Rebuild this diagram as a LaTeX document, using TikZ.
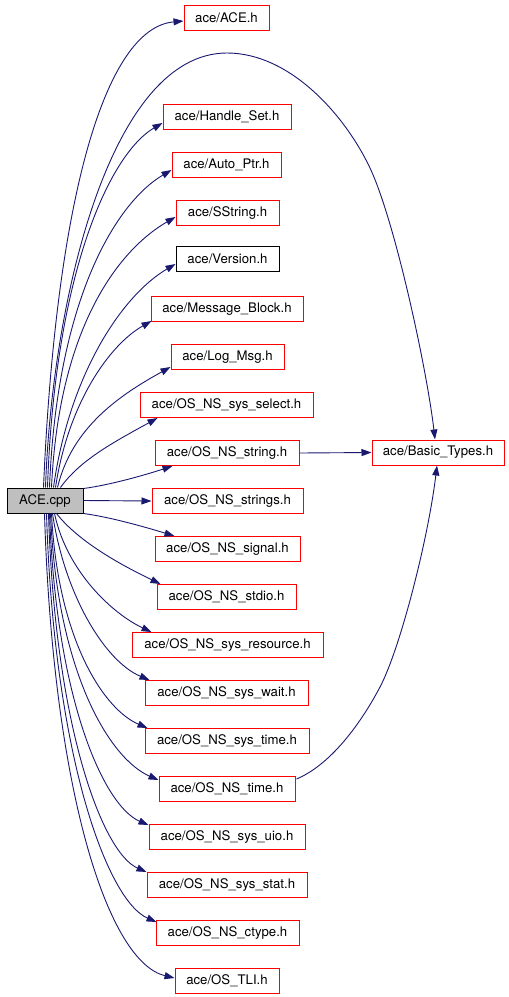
\documentclass[tikz,border=0pt]{standalone}
\usepackage{fontspec}
\setmainfont{TeX Gyre Heros}
\usetikzlibrary{arrows.meta,calc}
\definecolor{edgeblue}{HTML}{191970}
\definecolor{cppgray}{HTML}{BFBFBF}
\begin{document}
\begin{tikzpicture}[x=1pt,y=-1pt,
  hdr/.style={draw=red, line width=1pt, minimum height=25pt, inner sep=0pt,
    font=\fontsize{13.2}{15}\selectfont},
  edge/.style={draw=edgeblue, line width=0.9pt, -{Triangle[length=10pt,width=7pt]}}]
\useasboundingbox (0,0) rectangle (509,997);
% nodes
\node[hdr, draw=black, fill=cppgray, minimum width=76pt] (cpp) at (45,500.5) {ACE.cpp};
\node[hdr, minimum width=85pt]  (ace)  at (226.5,18)  {ace/ACE.h};
\node[hdr, minimum width=128pt] (hs)   at (227,116.5) {ace/Handle\_Set.h};
\node[hdr, minimum width=109pt] (ap)   at (226.5,165) {ace/Auto\_Ptr.h};
\node[hdr, minimum width=103pt] (ss)   at (227.5,213) {ace/SString.h};
\node[hdr, draw=black, minimum width=103pt] (ver) at (227.5,259) {ace/Version.h};
\node[hdr, minimum width=152pt] (mb)   at (227,309)   {ace/Message\_Block.h};
\node[hdr, minimum width=113pt] (lm)   at (227.5,357) {ace/Log\_Msg.h};
\node[hdr, minimum width=173pt] (sel)  at (226.5,405) {ace/OS\_NS\_sys\_select.h};
\node[hdr, minimum width=144pt] (str)  at (227,453)   {ace/OS\_NS\_string.h};
\node[hdr, minimum width=151pt] (strs) at (227.5,501) {ace/OS\_NS\_strings.h};
\node[hdr, minimum width=145pt] (sig)  at (227.5,549) {ace/OS\_NS\_signal.h};
\node[hdr, minimum width=139pt] (stdio) at (226.5,597) {ace/OS\_NS\_stdio.h};
\node[hdr, minimum width=191pt] (res)  at (227.5,645) {ace/OS\_NS\_sys\_resource.h};
\node[hdr, minimum width=163pt] (wait) at (226.5,693) {ace/OS\_NS\_sys\_wait.h};
\node[hdr, minimum width=164pt] (stime) at (227,741)  {ace/OS\_NS\_sys\_time.h};
\node[hdr, minimum width=136pt] (time) at (227,789)   {ace/OS\_NS\_time.h};
\node[hdr, minimum width=156pt] (uio)  at (227,837)   {ace/OS\_NS\_sys\_uio.h};
\node[hdr, minimum width=160pt] (stat) at (227,885)   {ace/OS\_NS\_sys\_stat.h};
\node[hdr, minimum width=143pt] (ctype) at (227.5,933) {ace/OS\_NS\_ctype.h};
\node[hdr, minimum width=104pt] (tli)  at (227,981)   {ace/OS\_TLI.h};
\node[hdr, minimum width=132pt] (bt)   at (438,452.5) {ace/Basic\_Types.h};
% upward edges
\draw[edge] ($(cpp.north west)+(37,0)$) .. controls (56,198) and (105,28) .. ($(ace.west)+(0,3)$);
\draw[edge] ($(cpp.north west)+(39,0)$) .. controls (52,300) and (110,53) .. (227,53)
   .. controls (290,53) and (345,115) .. (370,168)
   .. controls (395,221) and (427,370) .. ($(bt.north)+(-3,0)$);
\draw[edge] ($(cpp.north west)+(41,0)$) .. controls (55,269) and (111,153) .. ($(hs.west)+(0,6.5)$);
\draw[edge] ($(cpp.north west)+(43,0)$) .. controls (57,297) and (117,202) .. ($(ap.west)+(0,5)$);
\draw[edge] ($(cpp.north west)+(45,0)$) .. controls (59,325) and (120,249) .. ($(ss.west)+(0,4)$);
\draw[edge] ($(cpp.north west)+(47,0)$) .. controls (69,376) and (121,296) .. ($(ver.west)+(0,5)$);
\draw[edge] ($(cpp.north west)+(49,0)$) .. controls (68,404) and (109,345) .. ($(mb.south west)+(1,-1)$);
\draw[edge] ($(cpp.north west)+(51,0)$) .. controls (72,427) and (120,395) .. ($(lm.south west)+(0,-3)$);
\draw[edge] ($(cpp.north west)+(54,0)$) .. controls (80,460) and (114,442) .. ($(sel.south west)+(18,0)$);
\draw[edge] ($(cpp.north east)+(0,1)$) .. controls (110,485) and (145,475) .. ($(str.south west)+(18,0)$);
\draw[edge] (cpp.east) -- (strs.west);
\draw[edge] (cpp.south east) .. controls (110,517) and (145,527) .. ($(sig.north west)+(20,0)$);
% downward edges
\draw[edge] ($(cpp.south west)+(50,0)$) .. controls (78,541) and (119,564) .. ($(stdio.north west)+(4,0)$);
\draw[edge] ($(cpp.south west)+(48,0)$) .. controls (67,572) and (113,614) .. ($(res.north west)+(20,0)$);
\draw[edge] ($(cpp.south west)+(46,0)$) .. controls (65,597) and (106,662) .. ($(wait.north west)+(5,0)$);
\draw[edge] ($(cpp.south west)+(45,0)$) .. controls (58,642) and (105,710) .. ($(stime.north west)+(3,0)$);
\draw[edge] ($(cpp.south west)+(44,0)$) .. controls (57,673) and (110,759) .. ($(time.north west)+(0,4)$);
\draw[edge] ($(cpp.south west)+(43,0)$) .. controls (56,700) and (104,806) .. ($(uio.north west)+(0,1)$);
\draw[edge] ($(cpp.south west)+(42,0)$) .. controls (55,729) and (103,853) .. (stat.north west);
\draw[edge] ($(cpp.south west)+(40,0)$) .. controls (54,759) and (108,901) .. ($(ctype.north west)+(1,2)$);
\draw[edge] ($(cpp.south west)+(38,0)$) .. controls (53,792) and (108,962) .. ($(tli.west)+(0,-3)$);
% to Basic_Types
\draw[edge] (str.east) -- (bt.west);
\draw[edge] ($(time.north east)+(1,3)$) .. controls (330,765) and (360,725) .. (380,687)
   .. controls (400,649) and (428,540) .. ($(bt.south)+(-1,0)$);
\end{tikzpicture}
\end{document}
